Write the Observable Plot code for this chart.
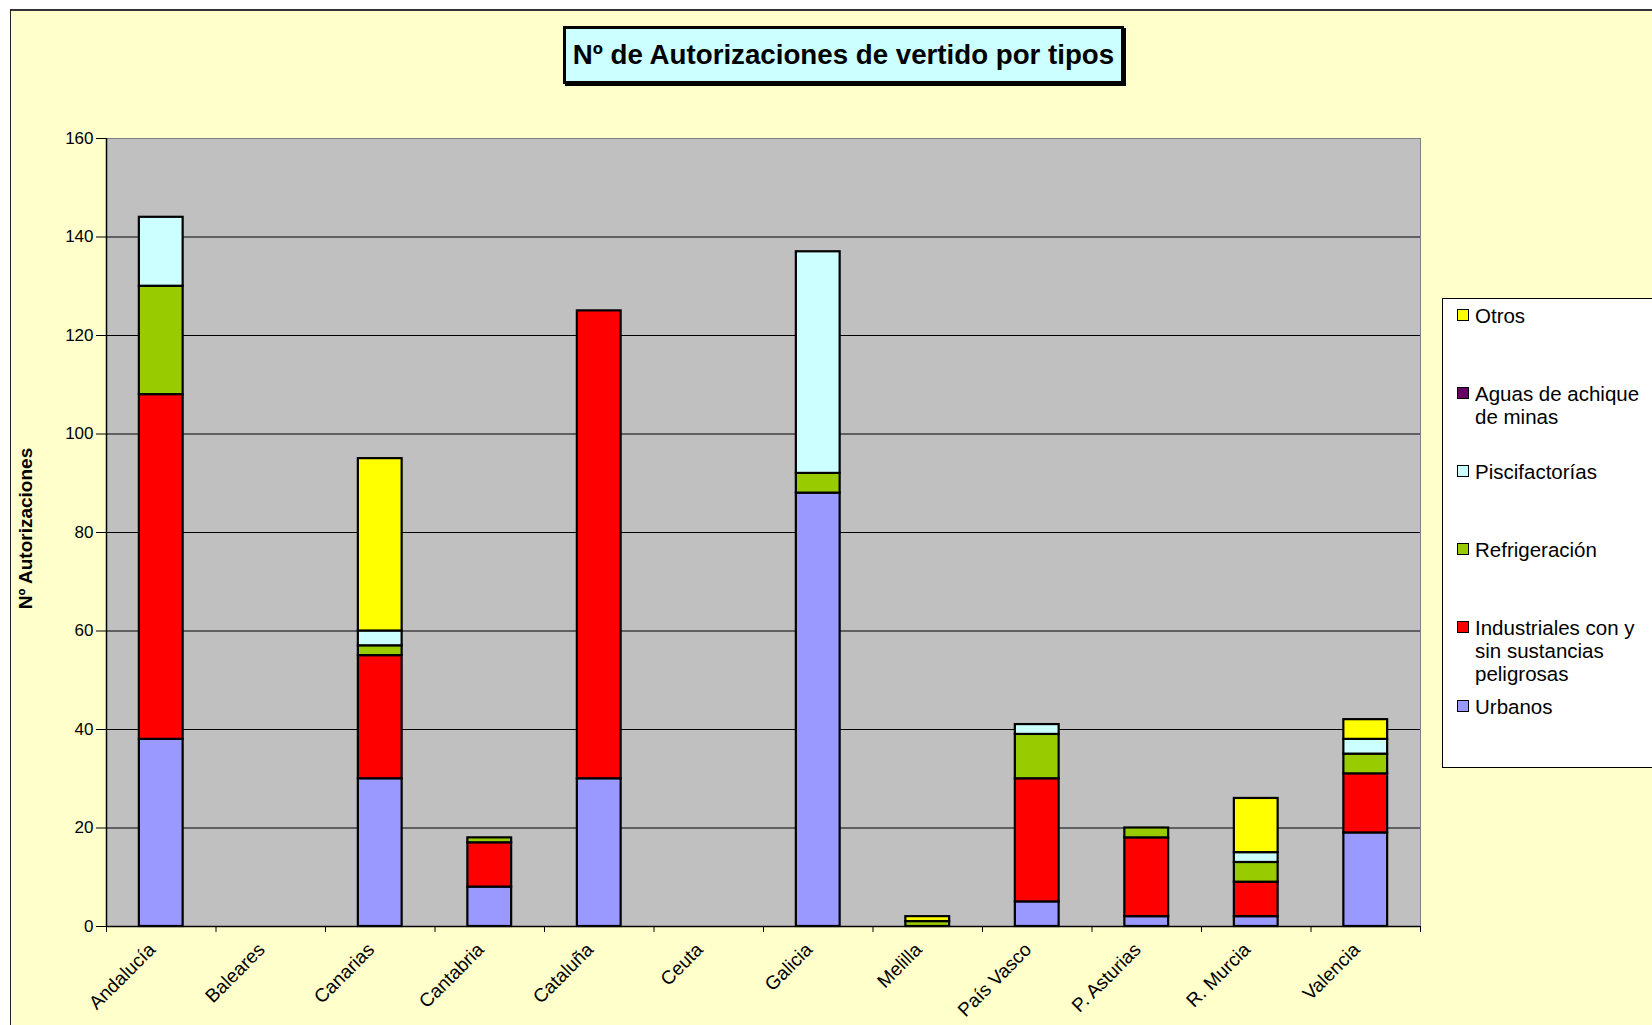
<!DOCTYPE html>
<html>
<head>
<meta charset="utf-8">
<script src="https://cdn.jsdelivr.net/npm/d3@7"></script>
<script src="https://cdn.jsdelivr.net/npm/@observablehq/plot@0.6"></script>
<style>
  html, body { margin: 0; padding: 0; background: #ffffff; overflow: hidden; width: 1652px; height: 1025px; }
  body { position: relative; font-family: "Liberation Sans", Arial, sans-serif; }
  #frame { position: absolute; left: 10px; top: 9px; width: 1700px; height: 1100px; background: #ffffcc; border-left: 1px solid #222; border-top: 2px solid #333; }
  #chart { position: absolute; left: 0; top: 0; }
  #title { position: absolute; left: 563px; top: 26px; width: 561px; height: 58px; box-sizing: border-box;
           border: 3px solid #000; background: #ccffff; font-weight: bold; font-size: 27.7px; line-height: 52px; text-align: center;
           box-shadow: 2px 2px 0 #000; white-space: nowrap; }
  #legend { position: absolute; left: 1442px; top: 298px; width: 300px; height: 470px; box-sizing: border-box;
            border: 1px solid #000; background: #ffffff; }
  .item { position: absolute; left: 1475px; width: 176px; font-size: 20.5px; line-height: 23px; color: #000; }
  .sw { position: absolute; left: 1457px; width: 12px; height: 12px; box-sizing: border-box; border: 1.5px solid #000; }
</style>
</head>
<body>
<div id="frame"></div>
<div id="chart"></div>
<div id="title"></div>
<div id="legend"></div>
<script>
// ---- data ----
const chartTitle = "Nº de Autorizaciones de vertido por tipos";
const yTitle = "Nº Autorizaciones";
const regions = ["Andalucía", "Baleares", "Canarias", "Cantabria", "Cataluña", "Ceuta", "Galicia", "Melilla", "País Vasco", "P. Asturias", "R. Murcia", "Valencia"];
const seriesNames = ["Urbanos", "Industriales con y sin sustancias peligrosas", "Refrigeración", "Piscifactorías", "Aguas de achique de minas", "Otros"];
const seriesColors = ["#9999ff", "#ff0000", "#99cc00", "#ccffff", "#660066", "#ffff00"];
const urbanos       = [38, 0, 30, 8, 30, 0, 88, 0, 5, 2, 2, 19];
const industriales  = [70, 0, 25, 9, 95, 0, 0, 0, 25, 16, 7, 12];
const refrigeracion = [22, 0, 2, 1, 0, 0, 4, 1, 9, 2, 4, 4];
const piscifactorias= [14, 0, 3, 0, 0, 0, 45, 0, 2, 0, 2, 3];
const aguasMinas    = [0, 0, 0, 0, 0, 0, 0, 0, 0, 0, 0, 0];
const otros         = [0, 0, 35, 0, 0, 0, 0, 1, 0, 0, 11, 4];
const yTicks = [0, 20, 40, 60, 80, 100, 120, 140, 160];
const gridTicks = [20, 40, 60, 80, 100, 120, 140];

// ---- layout ----
const W = 1652, H = 1025;
const mL = 106, mR = 232, mT = 138, mB = 99;
const step = (W - mL - mR) / regions.length;

const seriesValues = [urbanos, industriales, refrigeracion, piscifactorias, aguasMinas, otros];
const rows = [];
seriesNames.forEach((s, si) => {
  regions.forEach((r, ri) => {
    const v = seriesValues[si][ri];
    if (v > 0) rows.push({region: r, type: s, value: v});
  });
});

const chart = Plot.plot({
  width: W, height: H,
  marginLeft: mL, marginRight: mR, marginTop: mT, marginBottom: mB,
  style: {background: "transparent", fontFamily: "Liberation Sans, Arial, sans-serif", color: "#000"},
  x: {type: "band", domain: regions, paddingInner: 0.6, paddingOuter: 0.3, round: false, label: null},
  y: {domain: [0, 160], label: null},
  color: {domain: seriesNames, range: seriesColors},
  marks: [
    Plot.frame({fill: "#c0c0c0", stroke: "#808080"}),
    Plot.ruleY(gridTicks, {stroke: "#000", strokeWidth: 1}),
    Plot.barY(rows, {x: "region", y: "value", fill: "type", stroke: "#000", strokeWidth: 2.2}),
    Plot.ruleY([0], {stroke: "#000", strokeWidth: 1.5}),
    Plot.ruleX([regions[0]], {dx: -step / 2, y1: 0, y2: 160, stroke: "#000", strokeWidth: 1.5}),
    Plot.ruleX(regions, {dx: -step / 2, y1: 0, y2: -1.2, stroke: "#000"}),
    Plot.ruleX([regions[regions.length - 1]], {dx: step / 2, y1: 0, y2: -1.2, stroke: "#000"}),
    Plot.axisY(yTicks, {tickSize: 10, tickPadding: 3, fontSize: 17, stroke: "#000"}),
    Plot.axisX({tickRotate: -45, tickSize: 0, tickPadding: 14, fontSize: 19, dx: -9, dy: 6}),
    Plot.text([yTitle], {frameAnchor: "left", textAnchor: "middle", dx: -81, dy: -4, rotate: -90, fontWeight: "bold", fontSize: 19})
  ]
});
document.getElementById("chart").appendChild(chart);

document.getElementById("title").textContent = chartTitle;

// legend (reverse stacking order)
const legendTops = [304, 382, 460, 538, 616, 695];
const order = seriesNames.map((s, i) => i).reverse();
order.forEach((si, k) => {
  const top = legendTops[k];
  const sw = document.createElement("div");
  sw.className = "sw";
  sw.style.top = (top + 5) + "px";
  sw.style.background = seriesColors[si];
  document.body.appendChild(sw);
  const it = document.createElement("div");
  it.className = "item";
  it.style.top = top + "px";
  it.textContent = seriesNames[si];
  document.body.appendChild(it);
});
</script>
</body>
</html>
